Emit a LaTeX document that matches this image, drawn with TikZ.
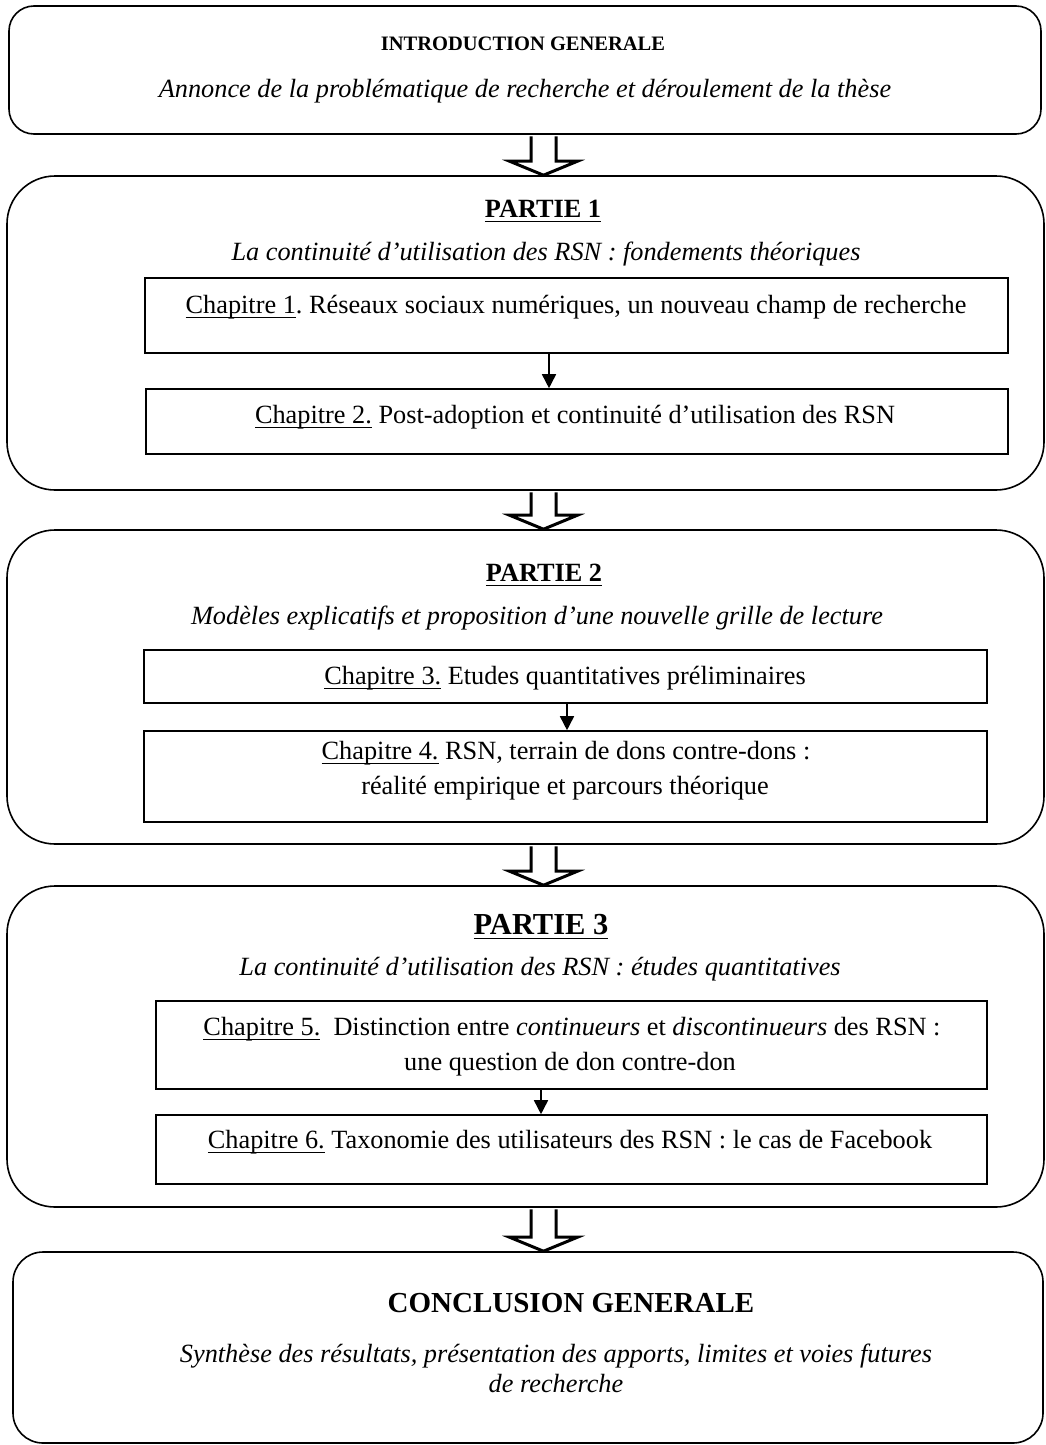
\documentclass[tikz,border=0pt]{standalone}
\usepackage{fontspec}
\setmainfont{Liberation Serif}
\usetikzlibrary{arrows.meta,calc}
\frenchspacing
\newcommand{\nf}{\fontsize{26.3}{31}\selectfont}
\newcommand{\ul}[1]{\setbox0=\hbox{#1}\rlap{\vrule width\wd0 height -3.6pt depth 5.4pt}\box0\relax}
\begin{document}
\begin{tikzpicture}[x=1pt,y=-1pt,
  bigbox/.style={draw, line width=1.6pt, rounded corners=#1, inner sep=0pt},
  chapbox/.style={draw, line width=1.6pt, inner sep=0pt},
  txt/.style={inner sep=0pt, anchor=base, font=\nf},
  arr/.style={line width=1.6pt, -{Triangle[length=14pt,width=14pt]}},
  barrow/.style={draw, fill=white, line width=3pt, line join=miter},
]
\useasboundingbox (0,0) rectangle (1046,1445);
\fill[white] (0,0) rectangle (1046,1445);

% large boxes
\node[bigbox=25pt, minimum width=1032pt, minimum height=128pt] (intro) at (525,70) {};
\node[bigbox=48pt, minimum width=1037pt, minimum height=314pt] (p1) at (525.5,333) {};
\node[bigbox=48pt, minimum width=1037pt, minimum height=314pt] (p2) at (525.5,687) {};
\node[bigbox=48pt, minimum width=1037pt, minimum height=321pt] (p3) at (525.5,1046.5) {};
\node[bigbox=30pt, minimum width=1030pt, minimum height=191pt] (concl) at (528,1347.5) {};

% chapter boxes
\node[chapbox, minimum width=863pt, minimum height=75pt] (c1) at (576.5,315.5) {};
\node[chapbox, minimum width=862pt, minimum height=65pt] (c2) at (577,421.5) {};
\node[chapbox, minimum width=843pt, minimum height=53pt] (c3) at (565.5,676.5) {};
\node[chapbox, minimum width=843pt, minimum height=91pt] (c4) at (565.5,776.5) {};
\node[chapbox, minimum width=831pt, minimum height=88pt] (c5) at (571.5,1045) {};
\node[chapbox, minimum width=831pt, minimum height=69pt] (c6) at (571.5,1149.5) {};

% texts
\node[txt, font=\fontsize{20.5}{25}\selectfont] (tintro) at (523,51) {\textbf{INTRODUCTION GENERALE}};
\node[txt] (sintro) at (525,97) {\textit{Annonce de la problématique de recherche et déroulement de la thèse}};

\node[txt] (tp1) at (543,217) {\ul{\textbf{PARTIE 1}}};
\node[txt] (sp1) at (546,260) {\textit{La continuité d’utilisation des RSN : fondements théoriques}};
\node[txt] (tc1) at (576,313) {\ul{Chapitre 1}. Réseaux sociaux numériques, un nouveau champ de recherche};
\node[txt] (tc2) at (575,423) {\ul{Chapitre 2.} Post-adoption et continuité d’utilisation des RSN};

\node[txt] (tp2) at (544,581) {\ul{\textbf{PARTIE 2}}};
\node[txt] (sp2) at (537,624) {\textit{Modèles explicatifs et proposition d’une nouvelle grille de lecture}};
\node[txt] (tc3) at (565,684) {\ul{Chapitre 3.} Etudes quantitatives préliminaires};
\node[txt] (tc4a) at (566,759) {\ul{Chapitre 4.} RSN, terrain de dons contre-dons :};
\node[txt] (tc4b) at (565,794) {réalité empirique et parcours théorique};

\node[txt, font=\fontsize{30.5}{36}\selectfont] (tp3) at (541,934) {\ul{\textbf{PARTIE 3}}};
\node[txt] (sp3) at (540,975) {\textit{La continuité d’utilisation des RSN : études quantitatives}};
\node[txt] (tc5a) at (572,1035) {\ul{Chapitre 5.}\ \ Distinction entre \textit{continueurs} et \textit{discontinueurs} des RSN :};
\node[txt] (tc5b) at (570,1070) {une question de don contre-don};
\node[txt] (tc6) at (570,1148) {\ul{Chapitre 6.} Taxonomie des utilisateurs des RSN : le cas de Facebook};

\node[txt, font=\fontsize{29}{35}\selectfont] (tconcl) at (571,1312) {\textbf{CONCLUSION GENERALE}};
\node[txt] (sconcl1) at (556,1362) {\textit{Synthèse des résultats, présentation des apports, limites et voies futures}};
\node[txt] (sconcl2) at (556,1392) {\textit{de recherche}};

% chapter arrows
\draw[arr] ([xshift=-27.5pt]c1.south) -- ([xshift=-28pt]c2.north);
\draw[arr] ([xshift=1.5pt]c3.south) -- ([xshift=1.5pt]c4.north);
\draw[arr] ([xshift=-30.5pt]c5.south) -- ([xshift=-30.5pt]c6.north);

% block arrows
\coordinate (ax) at (543.5,0);
\foreach \a/\b in {intro/p1, p1/p2, p2/p3, p3/concl}{
  \draw[barrow] ($(\a.south -| ax)+(-12.5,1.5)$) |- ($(\b.north -| ax)+(-34,-14)$)
     -- (\b.north -| ax) -- ($(\b.north -| ax)+(34,-14)$) -| ($(\a.south -| ax)+(12.5,1.5)$);
}
\end{tikzpicture}
\end{document}
